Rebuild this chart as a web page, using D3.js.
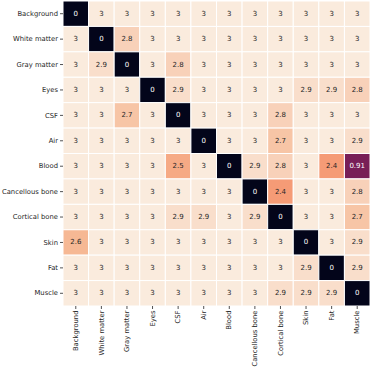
<!DOCTYPE html>
<html><head><meta charset="utf-8">
<script src="https://cdn.jsdelivr.net/npm/d3@7/dist/d3.min.js"></script>
<style>body{margin:0;background:#fff}svg{display:block}</style>
</head><body>
<script>
const categories = ["Background","White matter","Gray matter","Eyes","CSF","Air","Blood","Cancellous bone","Cortical bone","Skin","Fat","Muscle"];
const rowBackground     = [0,3,3,3,3,3,3,3,3,3,3,3];
const rowWhiteMatter    = [3,0,2.8,3,3,3,3,3,3,3,3,3];
const rowGrayMatter     = [3,2.9,0,3,2.8,3,3,3,3,3,3,3];
const rowEyes           = [3,3,3,0,2.9,3,3,3,3,2.9,2.9,2.8];
const rowCSF            = [3,3,2.7,3,0,3,3,3,2.8,3,3,3];
const rowAir            = [3,3,3,3,3,0,3,3,2.7,3,3,2.9];
const rowBlood          = [3,3,3,3,2.5,3,0,2.9,2.8,3,2.4,0.91];
const rowCancellous     = [3,3,3,3,3,3,3,0,2.4,3,3,2.8];
const rowCortical       = [3,3,3,3,2.9,2.9,3,2.9,0,3,3,2.7];
const rowSkin           = [2.6,3,3,3,3,3,3,3,3,0,3,2.9];
const rowFat            = [3,3,3,3,3,3,3,3,3,2.9,0,2.9];
const rowMuscle         = [3,3,3,3,3,3,3,3,2.9,2.9,2.9,0];
const matrix = [rowBackground,rowWhiteMatter,rowGrayMatter,rowEyes,rowCSF,rowAir,rowBlood,rowCancellous,rowCortical,rowSkin,rowFat,rowMuscle];

const W = 374, H = 367;
const mLeft = 63, mTop = 1, mRight = 370, mBottom = 306;

const svg = d3.select("body").append("svg").attr("width", W).attr("height", H);

const x = d3.scaleBand().domain(categories).range([mLeft, mRight]).padding(0);
const y = d3.scaleBand().domain(categories).range([mTop, mBottom]).padding(0);

const rocketStops = ["#03051a","#35193e","#701f57","#ad1759","#e13342","#f37651","#f6b48f","#faebdd"];
const rocket = d3.scaleLinear().domain(rocketStops.map((_, i) => i / (rocketStops.length - 1))).range(rocketStops).interpolate(d3.interpolateRgb);
const vmax = d3.max(matrix.flat());
const color = v => rocket(v / vmax);

const cells = [];
matrix.forEach((row, i) => row.forEach((v, j) => cells.push({r: categories[i], c: categories[j], v})));

const g = svg.append("g");
g.selectAll("rect").data(cells).join("rect")
  .attr("x", d => x(d.c)).attr("y", d => y(d.r))
  .attr("width", x.bandwidth()).attr("height", y.bandwidth())
  .attr("fill", d => color(d.v))
  .attr("stroke", "#fff").attr("stroke-width", 1);

g.selectAll("text").data(cells).join("text")
  .attr("x", d => x(d.c) + x.bandwidth() / 2)
  .attr("y", d => y(d.r) + y.bandwidth() / 2)
  .attr("text-anchor", "middle").attr("dominant-baseline", "central")
  .attr("font-family", "DejaVu Sans").attr("font-size", 7)
  .attr("fill", d => (d.v / vmax) < 0.5 ? "#ffffff" : "#262626")
  .text(d => d.v);

const yAxis = svg.append("g").attr("transform", `translate(${mLeft},0)`)
  .call(d3.axisLeft(y).tickSize(3).tickPadding(2));
yAxis.select(".domain").remove();
yAxis.selectAll("line").attr("stroke", "#262626").attr("stroke-width", 0.8);
yAxis.selectAll("text").attr("font-family", "DejaVu Sans").attr("font-size", 6.8).attr("fill", "#262626");

const xAxis = svg.append("g").attr("transform", `translate(0,${mBottom})`)
  .call(d3.axisBottom(x).tickSize(3).tickPadding(2));
xAxis.select(".domain").remove();
xAxis.selectAll("line").attr("stroke", "#262626").attr("stroke-width", 0.8);
xAxis.selectAll("text")
  .attr("font-family", "DejaVu Sans").attr("font-size", 6.8).attr("fill", "#262626")
  .attr("transform", "rotate(-90)")
  .attr("text-anchor", "end")
  .attr("dy", "0.32em")
  .attr("x", -4.5).attr("y", 0);
</script>
</body></html>
